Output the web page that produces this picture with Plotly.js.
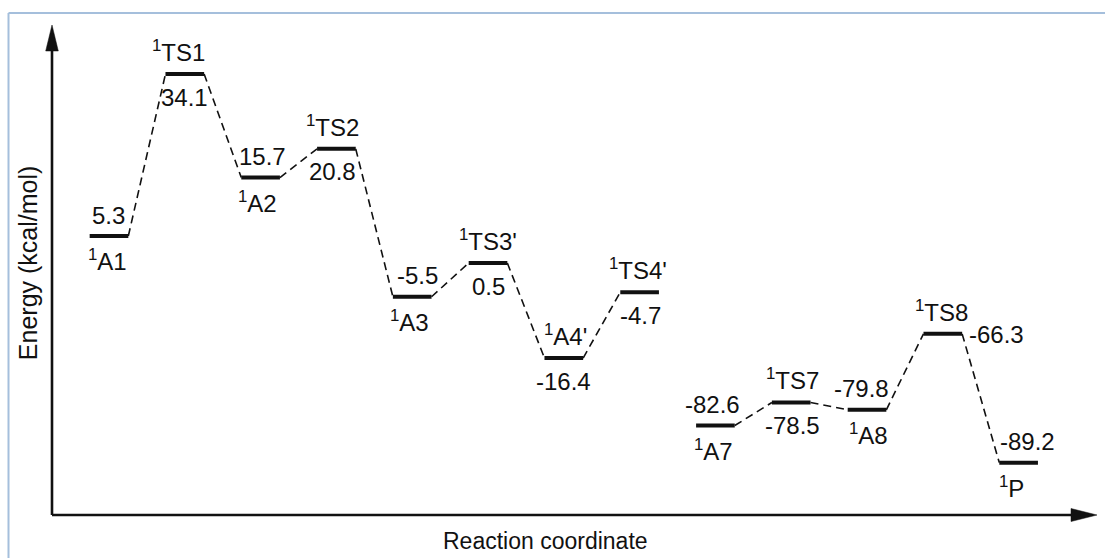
<!DOCTYPE html>
<html>
<head>
<meta charset="utf-8">
<script src="https://cdn.plot.ly/plotly-3.0.1.min.js"></script>
<style>
  html, body { margin: 0; padding: 0; background: #fff; }
  #chart { width: 1105px; height: 558px; }
</style>
</head>
<body>
<div id="chart"></div>
<script>
// ---- data ----
const species = ["A1", "TS1", "A2", "TS2", "A3", "TS3'", "A4'", "TS4'", "A7", "TS7", "A8", "TS8", "P"];
const energies = [5.3, 34.1, 15.7, 20.8, -5.5, 0.5, -16.4, -4.7, -82.6, -78.5, -79.8, -66.3, -89.2];
const spinPrefix = "1";
const xTitle = "Reaction coordinate";
const yTitle = "Energy (kcal/mol)";

// ---- layout / style (not data) ----
const breakIndex = 8;          // y axis is broken before A7 (no connector across the break)
const breakShift = 54.2;       // visual shift of the lower part (the axis has no ticks)
const halfWidth = 0.255;
const namePos = ["below", "above", "below", "above", "below", "above", "above", "above", "below", "above", "below", "above", "below"];
const energyPos = namePos.map((p, i) => species[i] === "TS8" ? "right" : (p === "above" ? "below" : "above"));
const nameDx = [-2, -6, -3, -4, -3, 0, 2, -2, -2, 1, 1, -1, -7];
const energyDx = [-1, 0, 2, -4, 5, 0, 0, 1, -3, 1, -6, 0, 9];
const fontFam = "'Liberation Sans', Arial, Helvetica, sans-serif";
const labelSize = 24;
const ink = "#111111";

const plotY = energies.map((e, i) => i >= breakIndex ? e + breakShift : e);

// levels
const lx = [], ly = [];
plotY.forEach((y, i) => { lx.push(i - halfWidth, i + halfWidth, null); ly.push(y, y, null); });
// connectors
const cx = [], cy = [];
for (let i = 0; i < plotY.length - 1; i++) {
  if (i + 1 === breakIndex) continue;
  cx.push(i + halfWidth, i + 1 - halfWidth, null);
  cy.push(plotY[i], plotY[i + 1], null);
}

const traces = [
  { x: cx, y: cy, mode: "lines", line: { color: ink, width: 1.6, dash: "8px,5px" }, hoverinfo: "skip", showlegend: false },
  { x: lx, y: ly, mode: "lines", line: { color: ink, width: 4 }, hoverinfo: "skip", showlegend: false }
];

const ann = [];
species.forEach((s, i) => {
  const nm = "<sup>" + spinPrefix + "</sup>" + s;
  ann.push({ x: i, y: plotY[i], xref: "x", yref: "y", text: nm, showarrow: false,
    xanchor: "center", yanchor: "middle", xshift: nameDx[i], yshift: namePos[i] === "above" ? 23 : -24,
    font: { family: fontFam, size: labelSize, color: ink } });
  const ep = energyPos[i];
  ann.push({ x: ep === "right" ? i + halfWidth : i, y: plotY[i], xref: "x", yref: "y", text: energies[i].toFixed(1), showarrow: false,
    xanchor: ep === "right" ? "left" : "center", yanchor: "middle",
    xshift: ep === "right" ? 5 : energyDx[i], yshift: ep === "above" ? 21 : (ep === "below" ? -23 : -1),
    font: { family: fontFam, size: labelSize, color: ink } });
});
ann.push({ x: -0.023, y: 0.516, xref: "paper", yref: "paper", text: yTitle, textangle: -90, showarrow: false,
  xanchor: "center", yanchor: "middle", font: { family: fontFam, size: 25, color: ink } });
ann.push({ x: 0.4718, y: -0.053, xref: "paper", yref: "paper", text: xTitle, showarrow: false,
  xanchor: "center", yanchor: "middle", font: { family: fontFam, size: 23, color: ink } });

// plot area: 52..1097 px horizontally, 25..515 px vertically
const W = 1045, H = 490;
const px = v => v / W, py = v => v / H;
const shapes = [
  // decorative frame (light blue, top + left)
  { type: "line", xref: "paper", yref: "paper", x0: px(8.5 - 52), y0: py(515 - 13), x1: px(1105 - 52), y1: py(515 - 13), line: { color: "#a5bfdc", width: 2 } },
  { type: "line", xref: "paper", yref: "paper", x0: px(8.5 - 52), y0: py(515 - 13), x1: px(8.5 - 52), y1: py(515 - 560), line: { color: "#a5bfdc", width: 2 } },
  // axes
  { type: "line", xref: "paper", yref: "paper", x0: 0, y0: 0, x1: 0, y1: py(490 - 20), line: { color: ink, width: 2.6 } },
  { type: "line", xref: "paper", yref: "paper", x0: 0, y0: 0, x1: px(1045 - 20), y1: 0, line: { color: ink, width: 2.6 } },
  // arrowheads
  { type: "path", xref: "paper", yref: "paper",
    path: `M ${px(-6.3)} ${py(464)} L 0 1 L ${px(6.3)} ${py(464)} Z`, fillcolor: ink, line: { color: ink, width: 0.5 } },
  { type: "path", xref: "paper", yref: "paper",
    path: `M ${px(1019)} ${py(6.5)} L 1 0 L ${px(1019)} ${py(-6.5)} Z`, fillcolor: ink, line: { color: ink, width: 0.5 } }
];

const layout = {
  width: 1105, height: 558,
  margin: { l: 52, r: 8, t: 25, b: 43, pad: 0 },
  paper_bgcolor: "#ffffff", plot_bgcolor: "#ffffff",
  showlegend: false,
  xaxis: { range: [-0.752, 13.034], visible: false, fixedrange: true },
  yaxis: { range: [-44.31, 42.82], visible: false, fixedrange: true },
  annotations: ann,
  shapes: shapes
};

Plotly.newPlot("chart", traces, layout, { displayModeBar: false, staticPlot: true });
</script>
</body>
</html>
